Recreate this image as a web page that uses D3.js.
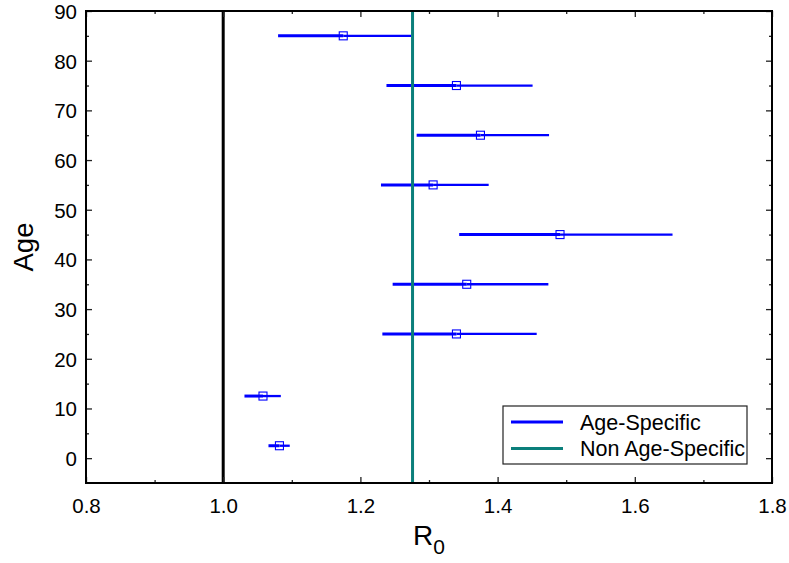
<!DOCTYPE html>
<html><head><meta charset="utf-8">
<script src="https://cdn.jsdelivr.net/npm/d3@7"></script>
<style>
body{margin:0;background:#fff;}
text{font-family:"Liberation Sans",Arial,Helvetica,sans-serif;fill:#000;}
</style></head>
<body><svg id="chart" width="789" height="563"></svg>
<script>
const ages = [2.5, 12.5, 25, 35, 45, 55, 65, 75, 85];
const r0Mean = [1.082, 1.058, 1.340, 1.355, 1.491, 1.306, 1.375, 1.340, 1.175];
const r0Lower = [1.066, 1.031, 1.232, 1.247, 1.344, 1.230, 1.282, 1.238, 1.080];
const r0Upper = [1.097, 1.084, 1.457, 1.474, 1.655, 1.387, 1.475, 1.451, 1.274];
const nonAgeR0 = 1.276;
const thresholdR0 = 1.0;
const xTicks = [0.8, 1.0, 1.2, 1.4, 1.6, 1.8];
const yTicks = [0, 10, 20, 30, 40, 50, 60, 70, 80, 90];
const legendLabels = ["Age-Specific", "Non Age-Specific"];

const blue = "#0000ff", teal = "#0b7f7b";
const svg = d3.select("#chart");
const L = 86, R = 772, T = 11, B = 483;
const x = d3.scaleLinear().domain([0.8, 1.8]).range([L, R]);
const y = d3.scaleLinear().domain([-5, 90]).range([B, T]);

const data = ages.map((a, i) => ({age: a, m: r0Mean[i], lo: r0Lower[i], hi: r0Upper[i]}));

// error bars
const g = svg.append("g");
g.selectAll("line.lo").data(data).join("line")
  .attr("x1", d => x(d.lo)).attr("x2", d => x(d.m))
  .attr("y1", d => y(d.age)).attr("y2", d => y(d.age))
  .attr("stroke", blue).attr("stroke-width", 3);
g.selectAll("line.hi").data(data).join("line")
  .attr("x1", d => x(d.m)).attr("x2", d => x(d.hi))
  .attr("y1", d => y(d.age)).attr("y2", d => y(d.age))
  .attr("stroke", blue).attr("stroke-width", 2.3);
g.selectAll("rect").data(data).join("rect")
  .attr("x", d => x(d.m) - 4).attr("y", d => y(d.age) - 4)
  .attr("width", 8).attr("height", 8)
  .attr("fill", "none").attr("stroke", blue).attr("stroke-width", 1.1);

// reference lines
svg.append("line").attr("x1", x(thresholdR0)).attr("x2", x(thresholdR0))
  .attr("y1", T).attr("y2", B).attr("stroke", "#000").attr("stroke-width", 3);
svg.append("line").attr("x1", x(nonAgeR0)).attr("x2", x(nonAgeR0))
  .attr("y1", T).attr("y2", B).attr("stroke", teal).attr("stroke-width", 3);

// axes (inward ticks on all sides)
const minorX = d3.range(0.9, 1.8, 0.2);
const minorY = d3.range(-5, 90, 10).filter(v => v > -5);
function tickAxis(axisFn, scale, vals, size, transform) {
  const a = axisFn(scale).tickValues(vals).tickSize(size).tickFormat("");
  const gg = svg.append("g").attr("transform", transform).call(a);
  gg.select(".domain").remove();
  gg.selectAll(".tick line").attr("stroke", "#222").attr("stroke-width", 1.3);
  return gg;
}
tickAxis(d3.axisTop, x, xTicks, 6, `translate(0,${B})`);
tickAxis(d3.axisTop, x, minorX, 3, `translate(0,${B})`);
tickAxis(d3.axisBottom, x, xTicks, 6, `translate(0,${T})`);
tickAxis(d3.axisBottom, x, minorX, 3, `translate(0,${T})`);
tickAxis(d3.axisRight, y, yTicks, 6, `translate(${L},0)`);
tickAxis(d3.axisRight, y, minorY, 3, `translate(${L},0)`);
tickAxis(d3.axisLeft, y, yTicks, 6, `translate(${R},0)`);
tickAxis(d3.axisLeft, y, minorY, 3, `translate(${R},0)`);

// tick labels
const xl = d3.axisBottom(x).tickValues(xTicks).tickSize(0).tickPadding(0).tickFormat(d3.format(".1f"));
const xg = svg.append("g").attr("transform", `translate(0,${B})`).call(xl);
xg.select(".domain").remove();
xg.selectAll("text").attr("font-size", 20.5).attr("dy", null).attr("y", 30)
  .attr("font-family", '"Liberation Sans",Arial,sans-serif').attr("fill", "#000");
const yl = d3.axisLeft(y).tickValues(yTicks).tickSize(0).tickPadding(0).tickFormat(d3.format("d"));
const yg = svg.append("g").attr("transform", `translate(${L},0)`).call(yl);
yg.select(".domain").remove();
yg.selectAll("text").attr("font-size", 20.5).attr("x", -9).attr("dy", "0.36em")
  .attr("font-family", '"Liberation Sans",Arial,sans-serif').attr("fill", "#000");

// frame
svg.append("rect").attr("x", L).attr("y", T).attr("width", R - L).attr("height", B - T)
  .attr("fill", "none").attr("stroke", "#000").attr("stroke-width", 2);

// axis titles
svg.append("text").attr("transform", "translate(33,247) rotate(-90)")
  .attr("text-anchor", "middle").attr("font-size", 27.5).text("Age");
const xt = svg.append("text").attr("x", 413).attr("y", 545).attr("font-size", 28);
xt.append("tspan").text("R");
xt.append("tspan").attr("font-size", 21).attr("dy", 9).text("0");

// legend
const lg = svg.append("g");
lg.append("rect").attr("x", 503).attr("y", 406).attr("width", 244).attr("height", 58)
  .attr("fill", "#fff").attr("stroke", "#222").attr("stroke-width", 1.2);
const lc = [blue, teal];
legendLabels.forEach((t, i) => {
  const yy = 422 + i * 26.5;
  lg.append("line").attr("x1", 511).attr("x2", 563).attr("y1", yy).attr("y2", yy)
    .attr("stroke", lc[i]).attr("stroke-width", 3);
  lg.append("text").attr("x", 580).attr("y", yy + 7.5).attr("font-size", 21.5).text(t);
});
</script></body></html>
